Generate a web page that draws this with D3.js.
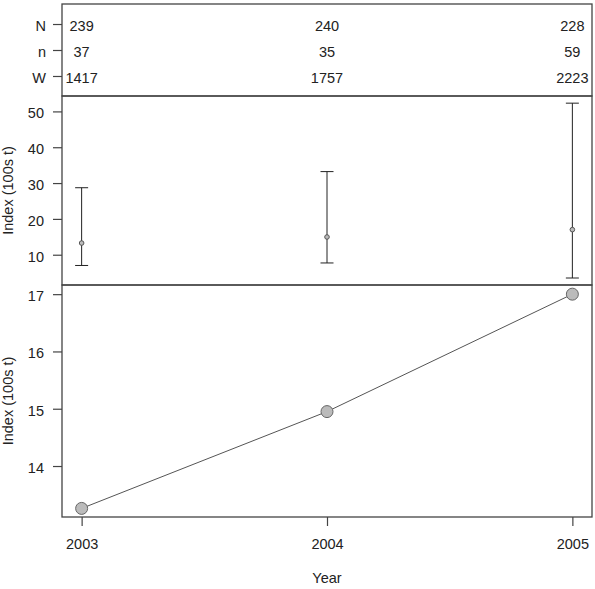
<!DOCTYPE html>
<meta charset="utf-8">
<style>
  body { margin: 0; background: #fff; }
  text { font-family: "Liberation Sans", Arial, sans-serif; font-size: 14.5px; fill: #222; }
</style>
<body>
<script src="https://d3js.org/d3.v7.min.js"></script>
<script>

// data
var years = [2003, 2004, 2005];
var rowLabels = ["N", "n", "W"];
var countN = [239, 240, 228];
var countn = [37, 35, 59];
var countW = [1417, 1757, 2223];
var index = [13.26, 14.95, 17.0];
var ciLow = [7.0, 7.7, 3.5];
var ciHigh = [28.7, 33.2, 52.3];
var midTicks = [10, 20, 30, 40, 50];
var lowTicks = [14, 15, 16, 17];

var W = 595, H = 589;
var left = 62, right = 592;
var topY = 4, div1 = 96, div2 = 285, bottom = 517;

var svg = d3.select("body").append("svg")
  .attr("width", W)
  .attr("height", H);

var x = d3.scaleLinear()
  .domain([2002.92, 2005.08])
  .range([left, right]);

// top panel: counts table
var yTop = d3.scalePoint()
  .domain(rowLabels)
  .range([topY, div1])
  .padding(0.77);

var rows = [countN, countn, countW];

var gTop = svg.append("g").attr("transform", "translate(" + left + ",0)");
gTop.call(d3.axisLeft(yTop).tickSize(9).tickPadding(7));

rowLabels.forEach(function(lab, i) {
  svg.selectAll(".cnt" + i)
    .data(rows[i])
    .enter()
    .append("text")
      .attr("x", function(d, j) { return x(years[j]); })
      .attr("y", yTop(lab))
      .attr("dy", "0.45em")
      .attr("text-anchor", "middle")
      .text(function(d) { return d; });
});

// middle panel: index with intervals
var yMid = d3.scaleLinear()
  .domain([1.55, 54.3])
  .range([div2, div1]);

svg.append("g")
  .attr("transform", "translate(" + left + ",0)")
  .call(d3.axisLeft(yMid).tickValues(midTicks).tickSize(9).tickPadding(9));

var bars = svg.append("g");
years.forEach(function(yr, i) {
  var cx = x(yr);
  bars.append("line")
    .attr("x1", cx).attr("x2", cx)
    .attr("y1", yMid(ciLow[i])).attr("y2", yMid(ciHigh[i]))
    .attr("stroke", "#222");
  [ciLow[i], ciHigh[i]].forEach(function(v) {
    bars.append("line")
      .attr("x1", cx - 6.5).attr("x2", cx + 6.5)
      .attr("y1", yMid(v)).attr("y2", yMid(v))
      .attr("stroke", "#222");
  });
});

svg.selectAll(".midPt")
  .data(index)
  .enter()
  .append("circle")
    .attr("cx", function(d, i) { return x(years[i]); })
    .attr("cy", function(d) { return yMid(d); })
    .attr("r", 2.3)
    .attr("fill", "#bbb")
    .attr("stroke", "#555");

// bottom panel: index line
var yLow = d3.scaleLinear()
  .domain([13.11, 17.16])
  .range([bottom, div2]);

svg.append("g")
  .attr("transform", "translate(" + left + ",0)")
  .call(d3.axisLeft(yLow).tickValues(lowTicks).tickFormat(d3.format("d")).tickSize(9).tickPadding(9));

var line = d3.line()
  .x(function(d, i) { return x(years[i]); })
  .y(function(d) { return yLow(d); });

svg.append("path")
  .attr("d", line(index))
  .attr("fill", "none")
  .attr("stroke", "#555")
  .attr("stroke-width", 1);

svg.selectAll(".lowPt")
  .data(index)
  .enter()
  .append("circle")
    .attr("cx", function(d, i) { return x(years[i]); })
    .attr("cy", function(d) { return yLow(d); })
    .attr("r", 6)
    .attr("fill", "#bbb")
    .attr("stroke", "#666")
    .attr("stroke-width", 1);

// x axis
svg.append("g")
  .attr("transform", "translate(0," + bottom + ")")
  .call(d3.axisBottom(x).tickValues(years).tickFormat(d3.format("d")).tickSize(9).tickPadding(13));

// frames
[[topY, div1], [div1, div2], [div2, bottom]].forEach(function(p) {
  svg.append("rect")
    .attr("x", left).attr("y", p[0])
    .attr("width", right - left).attr("height", p[1] - p[0])
    .attr("fill", "none")
    .attr("stroke", "#444")
    .attr("stroke-width", 1.3);
});

// axis styling
svg.selectAll(".domain").remove();
svg.selectAll(".tick line").attr("stroke", "#444").attr("stroke-width", 1.2);
svg.selectAll(".tick text")
  .style("font-family", "'Liberation Sans', Arial, sans-serif")
  .style("font-size", "14.5px")
  .attr("fill", "#222")
  .attr("dy", function() { return d3.select(this.parentNode.parentNode).attr("transform").indexOf("translate(0,") === 0 ? "0.71em" : "0.45em"; });

// labels
svg.append("text")
  .attr("transform", "translate(13," + ((div1 + div2) / 2) + ") rotate(-90)")
  .attr("text-anchor", "middle")
  .text("Index (100s t)");

svg.append("text")
  .attr("transform", "translate(13," + ((div2 + bottom) / 2) + ") rotate(-90)")
  .attr("text-anchor", "middle")
  .text("Index (100s t)");

svg.append("text")
  .attr("x", x(2004))
  .attr("y", 583)
  .attr("text-anchor", "middle")
  .text("Year");

</script>
</body>
